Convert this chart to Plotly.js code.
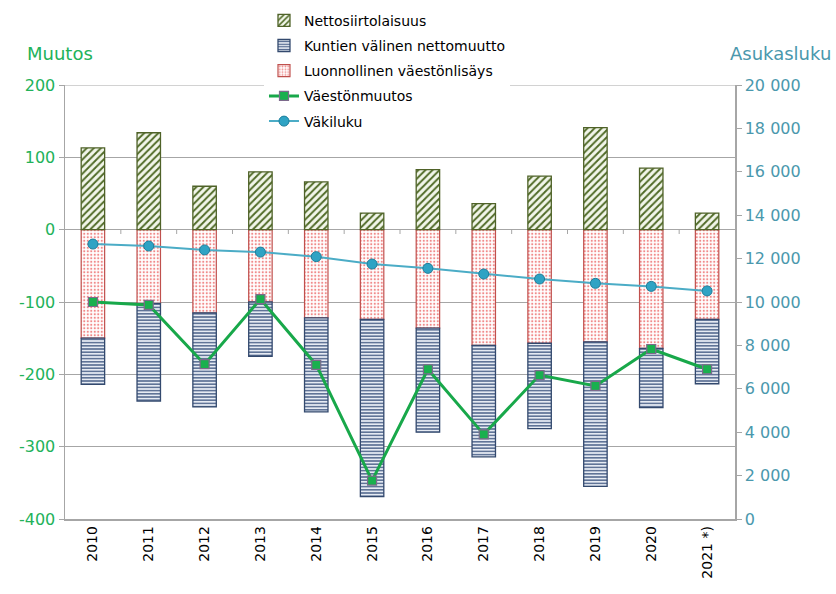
<!DOCTYPE html>
<html><head><meta charset="utf-8">
<script src="https://cdn.plot.ly/plotly-3.0.1.min.js"></script>
<style>html,body{margin:0;padding:0;background:#fff}#chart{width:836px;height:594px}</style>
</head><body><div id="chart"></div>
<script>
const years = ['2010','2011','2012','2013','2014','2015','2016','2017','2018','2019','2020','2021 *)'];
const nettosiirtolaisuus = [113, 134, 60, 80, 66, 23, 83, 36, 74, 141, 85, 23];
const kuntienValinen = [-64, -135, -130, -75, -130, -245, -144, -154, -118, -200, -82, -89];
const luonnollinen = [-150, -102, -115, -100, -122, -124, -136, -160, -157, -155, -164, -124];
const vaestonmuutos = [-100, -104, -186, -96, -187, -347, -193, -283, -201, -216, -165, -193];
const vakiluku = [12670, 12580, 12400, 12300, 12090, 11750, 11550, 11290, 11060, 10860, 10720, 10510];
const leftTicks = [-400, -300, -200, -100, 0, 100, 200];
const leftTickText = ['-400', '-300', '-200', '-100', '0', '100', '200'];
const rightTicks = [0, 2000, 4000, 6000, 8000, 10000, 12000, 14000, 16000, 18000, 20000];

const FONT = 'DejaVu Sans, Verdana, sans-serif';
const green = '#22b25a';
const teal = '#4a98ad';

const traces = [
  {type:'bar', name:'Luonnollinen väestönlisäys', x:years, y:luonnollinen, legendrank:3, legendgroup:'c',
   marker:{color:'#ffffff', line:{color:'#c0504d', width:1.2},
     pattern:{shape:'.', fgcolor:'#f08a8a', bgcolor:'#ffffff', size:3.5, solidity:0.3}}},
  {type:'bar', name:'Kuntien välinen nettomuutto', x:years, y:kuntienValinen, legendrank:2, legendgroup:'b',
   marker:{color:'#ffffff', line:{color:'#33496e', width:1.3},
     pattern:{shape:'-', fgcolor:'#3e5580', bgcolor:'#e6ebf3', size:3.2, solidity:0.4}}},
  {type:'bar', name:'Nettosiirtolaisuus', x:years, y:nettosiirtolaisuus, legendrank:1, legendgroup:'a',
   marker:{color:'#ffffff', line:{color:'#4f6228', width:1.3},
     pattern:{shape:'/', fgcolor:'#4f6a26', bgcolor:'#f2f6ea', size:5, solidity:0.38}}},
  {type:'scatter', mode:'lines+markers', name:'Väestönmuutos', x:years, y:vaestonmuutos, legendrank:4, legendgroup:'d',
   line:{color:'#18a84a', width:3},
   marker:{symbol:'square', size:9, color:'#19b04e', line:{color:'#7d6a8c', width:1.2}}},
  {type:'scatter', mode:'lines+markers', name:'Väkiluku', x:years, y:vakiluku, yaxis:'y2', legendrank:5, legendgroup:'e',
   line:{color:'#4bacc6', width:2},
   marker:{symbol:'circle', size:10, color:'#2fa3c4', line:{color:'#1d7f9c', width:1}}}
];

const shapes = [
  {type:'line', xref:'paper', yref:'y', x0:0, x1:1, y0:200, y1:200, layer:'below', line:{color:'#a6a6a6', width:1}}
];
for (let i = 1; i < years.length; i++) {
  shapes.push({type:'line', xref:'x', yref:'y', x0:i-0.5, x1:i-0.5, y0:0, y1:-6,
    line:{color:'#a6a6a6', width:1}});
}

const layout = {
  width:836, height:594,
  margin:{l:65, r:101, t:85, b:75, autoexpand:false},
  paper_bgcolor:'#ffffff', plot_bgcolor:'#ffffff',
  font:{family:FONT, size:13, color:'#000000'},
  separators:', ',
  barmode:'relative', bargap:0.58,
  showlegend:true,
  legend:{x:0.297, y:1.185, xanchor:'left', yanchor:'top', bgcolor:'#ffffff',
    font:{family:FONT, size:14, color:'#000'}, tracegroupgap:4, itemwidth:30},
  xaxis:{type:'category', categoryarray:years, range:[-0.5, years.length - 0.5], tickangle:-90, showline:true, linecolor:'#a6a6a6', linewidth:1.5,
    ticks:'', showgrid:false, zeroline:false, tickfont:{family:FONT, size:14, color:'#000'}, mirror:false, automargin:false},
  yaxis:{range:[-400,200], tickvals:leftTicks, ticktext:leftTickText, showgrid:true, gridcolor:'#a6a6a6', gridwidth:1,
    zeroline:true, zerolinecolor:'#a6a6a6', zerolinewidth:1, automargin:false,
    showline:true, linecolor:'#a6a6a6', linewidth:1.5, ticks:'outside', ticklen:5, tickcolor:'#a6a6a6',
    tickfont:{family:FONT, size:16, color:green}},
  yaxis2:{range:[0,20000], tickvals:rightTicks, tickformat:',d', overlaying:'y', side:'right', showgrid:false, automargin:false,
    zeroline:false, showline:true, linecolor:'#a6a6a6', linewidth:1.5, ticks:'outside', ticklen:5, tickcolor:'#a6a6a6',
    tickfont:{family:FONT, size:16, color:teal}},
  shapes:shapes,
  annotations:[
    {text:'Muutos', xref:'paper', yref:'paper', x:-0.06, y:1.072, xanchor:'left', yanchor:'middle', showarrow:false,
     font:{family:FONT, size:18, color:green}},
    {text:'Asukasluku', xref:'paper', yref:'paper', x:0.9896, y:1.072, xanchor:'left', yanchor:'middle', showarrow:false,
     font:{family:FONT, size:18, color:teal}}
  ]
};

Plotly.newPlot('chart', traces, layout, {displayModeBar:false, staticPlot:true});
</script>
</body></html>
